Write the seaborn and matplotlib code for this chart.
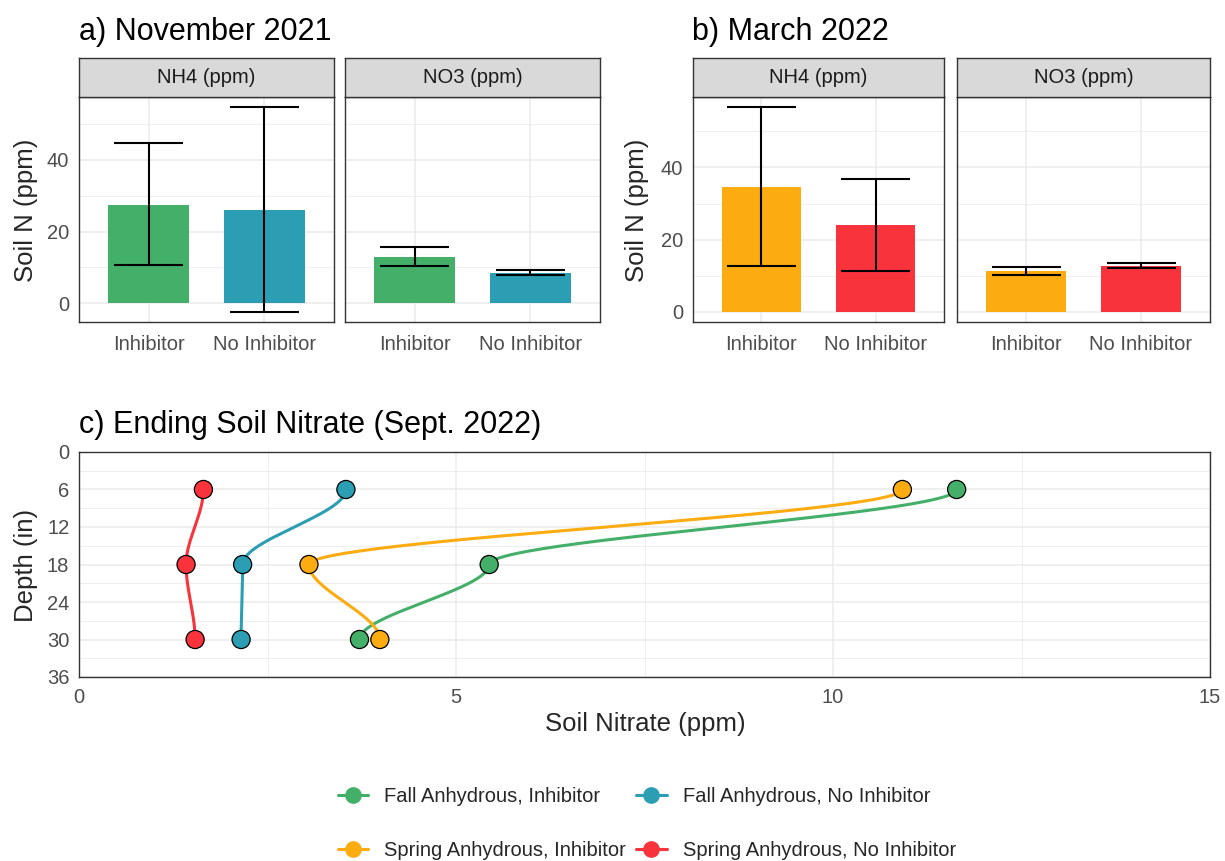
import numpy as np
import pandas as pd
import matplotlib
matplotlib.use("Agg")
import matplotlib.pyplot as plt
import seaborn as sns
from matplotlib.lines import Line2D

sns.set_theme(style="white")
plt.rcParams['font.family'] = ['Liberation Sans', 'DejaVu Sans']

# ---------------- data ----------------
treatments = ["Inhibitor", "No Inhibitor"]
facets = ["NH4 (ppm)", "NO3 (ppm)"]

nov_nh4 = [27.5, 26.1]
nov_nh4_lo = [10.6, -2.4]
nov_nh4_hi = [44.7, 54.7]
nov_no3 = [12.9, 8.5]
nov_no3_lo = [10.3, 7.9]
nov_no3_hi = [15.7, 9.2]

mar_nh4 = [34.7, 24.1]
mar_nh4_lo = [12.7, 11.4]
mar_nh4_hi = [56.7, 36.9]
mar_no3 = [11.2, 12.7]
mar_no3_lo = [10.1, 12.0]
mar_no3_hi = [12.5, 13.4]

depths = [6, 18, 30]
series_names = ["Fall Anhydrous, Inhibitor", "Fall Anhydrous, No Inhibitor",
                "Spring Anhydrous, Inhibitor", "Spring Anhydrous, No Inhibitor"]
fall_inh = [11.64, 5.44, 3.72]
fall_noinh = [3.54, 2.17, 2.15]
spring_inh = [10.92, 3.05, 3.99]
spring_noinh = [1.65, 1.42, 1.54]

GREEN, TEAL, ORANGE, RED = "#44AF69", "#2B9EB3", "#FCAB10", "#F8333C"
series_colors = [GREEN, TEAL, ORANGE, RED]

# ---------------- layout helpers ----------------
W, H = 1225, 861
fig = plt.figure(figsize=(W / 100, H / 100), dpi=100)
fig.patch.set_facecolor("white")

GRID = "#EBEBEB"
FRAME = "#333333"
TICKC = "#4D4D4D"
TICK_FS = 14.5
AXLAB_FS = 18.5
TITLE_FS = 22
STRIP_FS = 14.5


def px_axes(x0, y0, x1, y1):
    return fig.add_axes([x0 / W, 1 - y1 / H, (x1 - x0) / W, (y1 - y0) / H])


def style_frame(ax):
    for s in ax.spines.values():
        s.set_visible(True)
        s.set_color(FRAME)
        s.set_linewidth(1.0)
    ax.set_facecolor("white")
    ax.set_axisbelow(True)
    ax.tick_params(axis="both", colors=FRAME, length=4, width=1.0,
                   labelcolor=TICKC, labelsize=TICK_FS, pad=3, direction="out")


def strip(x0, x1, y0, y1, text):
    s = px_axes(x0, y0, x1, y1)
    s.set_facecolor("#D9D9D9")
    s.set_xticks([]); s.set_yticks([])
    for sp in s.spines.values():
        sp.set_visible(True); sp.set_color(FRAME); sp.set_linewidth(1.0)
    s.text(0.5, 0.5, text, ha="center", va="center", fontsize=STRIP_FS, color="#1A1A1A",
           transform=s.transAxes)


def bar_panel(x0, x1, y0, y1, vals, lo, hi, colors, ylim, yticks, show_y, strip_text):
    ax = px_axes(x0, y0, x1, y1)
    style_frame(ax)
    df = pd.DataFrame({"Treatment": treatments, "value": vals})
    sns.barplot(data=df, x="Treatment", y="value", hue="Treatment", palette=colors,
                width=0.7, ax=ax, legend=False, saturation=1, errorbar=None,
                edgecolor="none", zorder=2)
    xs = np.arange(len(treatments))
    ax.vlines(xs, lo, hi, color="black", lw=1.5, zorder=3)
    ax.hlines(lo, xs - 0.3, xs + 0.3, color="black", lw=1.5, zorder=3)
    ax.hlines(hi, xs - 0.3, xs + 0.3, color="black", lw=1.5, zorder=3)
    ax.set_xlim(-0.6, len(treatments) - 0.4)
    ax.set_ylim(*ylim)
    ax.set_yticks(yticks)
    ax.set_yticks([t + 10 for t in yticks], minor=True)
    ax.grid(True, which="major", color=GRID, lw=1.1)
    ax.grid(True, which="minor", axis="y", color=GRID, lw=0.6)
    ax.tick_params(axis="y", which="minor", length=0)
    ax.set_xlabel(""); ax.set_ylabel("")
    ax.tick_params(axis="x", pad=5)
    if not show_y:
        ax.tick_params(axis="y", which="both", length=0, labelleft=False)
    strip(x0, x1, 58, 97, strip_text)
    return ax


def expand(lo_list, hi_list):
    lo = min(min(lo_list), 0)
    hi = max(hi_list)
    r = hi - lo
    return (lo - 0.05 * r, hi + 0.05 * r)


# ---------------- panel a ----------------
ylim_a = expand(nov_nh4_lo + nov_no3_lo + [0], nov_nh4_hi + nov_no3_hi)
pal_a = [GREEN, TEAL]
axa1 = bar_panel(79, 334, 97, 322, nov_nh4, nov_nh4_lo, nov_nh4_hi, pal_a, ylim_a, [0, 20, 40], True, facets[0])
axa2 = bar_panel(345, 600, 97, 322, nov_no3, nov_no3_lo, nov_no3_hi, pal_a, ylim_a, [0, 20, 40], False, facets[1])
fig.text(79 / W, 1 - 40 / H, "a) November 2021", fontsize=TITLE_FS, ha="left", va="baseline", color="black")
fig.text(26 / W, 1 - 210 / H, "Soil N (ppm)", fontsize=AXLAB_FS, rotation=90, ha="center", va="center")

# ---------------- panel b ----------------
ylim_b = expand(mar_nh4_lo + mar_no3_lo + [0], mar_nh4_hi + mar_no3_hi)
pal_b = [ORANGE, RED]
axb1 = bar_panel(693, 944, 97, 322, mar_nh4, mar_nh4_lo, mar_nh4_hi, pal_b, ylim_b, [0, 20, 40], True, facets[0])
axb2 = bar_panel(957, 1210, 97, 322, mar_no3, mar_no3_lo, mar_no3_hi, pal_b, ylim_b, [0, 20, 40], False, facets[1])
fig.text(692 / W, 1 - 40 / H, "b) March 2022", fontsize=TITLE_FS, ha="left", va="baseline", color="black")
fig.text(637 / W, 1 - 210 / H, "Soil N (ppm)", fontsize=AXLAB_FS, rotation=90, ha="center", va="center")

# ---------------- panel c ----------------
axc = px_axes(79, 452, 1210, 677)
style_frame(axc)
axc.set_xlim(0, 15)
axc.set_ylim(36, 0)
axc.set_xticks([0, 5, 10, 15])
axc.set_xticks([2.5, 7.5, 12.5], minor=True)
axc.set_yticks(list(range(0, 37, 6)))
axc.set_yticks(list(range(3, 36, 6)), minor=True)
axc.grid(True, which="major", color=GRID, lw=1.1)
axc.grid(True, which="minor", color=GRID, lw=0.6)
axc.tick_params(which="minor", length=0)
axc.tick_params(axis="x", pad=4)


def smooth_path(xs, ys, n=100):
    """Piecewise Hermite path: depth linear, nitrate eased (flat at each knot)."""
    px, py = [], []
    s = np.linspace(0, 1, n)
    e = 3 * s ** 2 - 2 * s ** 3
    for i in range(len(xs) - 1):
        px.append(xs[i] + (xs[i + 1] - xs[i]) * e)
        py.append(ys[i] + (ys[i + 1] - ys[i]) * s)
    return np.concatenate(px), np.concatenate(py)


all_series = [fall_inh, fall_noinh, spring_inh, spring_noinh]
rows = []
for name, vals in zip(series_names, all_series):
    for d, v in zip(depths, vals):
        rows.append({"series": name, "depth": d, "nitrate": v})
pts = pd.DataFrame(rows)

curve_rows = []
for name, vals in zip(series_names, all_series):
    cx, cy = smooth_path(vals, depths)
    for k, (a, b) in enumerate(zip(cx, cy)):
        curve_rows.append({"series": name, "order": k, "nitrate": a, "depth": b})
curves = pd.DataFrame(curve_rows)

pal = dict(zip(series_names, series_colors))
sns.lineplot(data=curves, x="nitrate", y="depth", hue="series",
             palette=pal, sort=False, estimator=None, lw=2.2, ax=axc, legend=False, zorder=3)
sns.scatterplot(data=pts, x="nitrate", y="depth", hue="series", palette=pal, s=170,
                edgecolor="black", linewidth=0.9, ax=axc, legend=False, zorder=4)
axc.set_ylim(36, 0)
axc.set_xlim(0, 15)
axc.set_xlabel(""); axc.set_ylabel("")
fig.text(79 / W, 1 - 433 / H, "c) Ending Soil Nitrate (Sept. 2022)", fontsize=TITLE_FS,
         ha="left", va="baseline", color="black")
fig.text(26 / W, 1 - 565 / H, "Depth (in)", fontsize=AXLAB_FS, rotation=90, ha="center", va="center")
fig.text(645 / W, 1 - 724 / H, "Soil Nitrate (ppm)", fontsize=AXLAB_FS, ha="center", va="center")

# ---------------- legend ----------------
order = [0, 2, 1, 3]
handles = [Line2D([0], [0], color=series_colors[i], lw=2.2, marker="o", markersize=11,
                  markerfacecolor=series_colors[i], markeredgecolor=series_colors[i])
           for i in order]
labels = [series_names[i] for i in order]
fig.legend(handles, labels, loc="center", bbox_to_anchor=(647 / W, 1 - 823.5 / H), ncol=2,
           frameon=False, fontsize=14.5, handlelength=1.5, handletextpad=0.8,
           columnspacing=0.5, labelspacing=1.7)

fig.savefig("out.png", dpi=100, facecolor="white")
